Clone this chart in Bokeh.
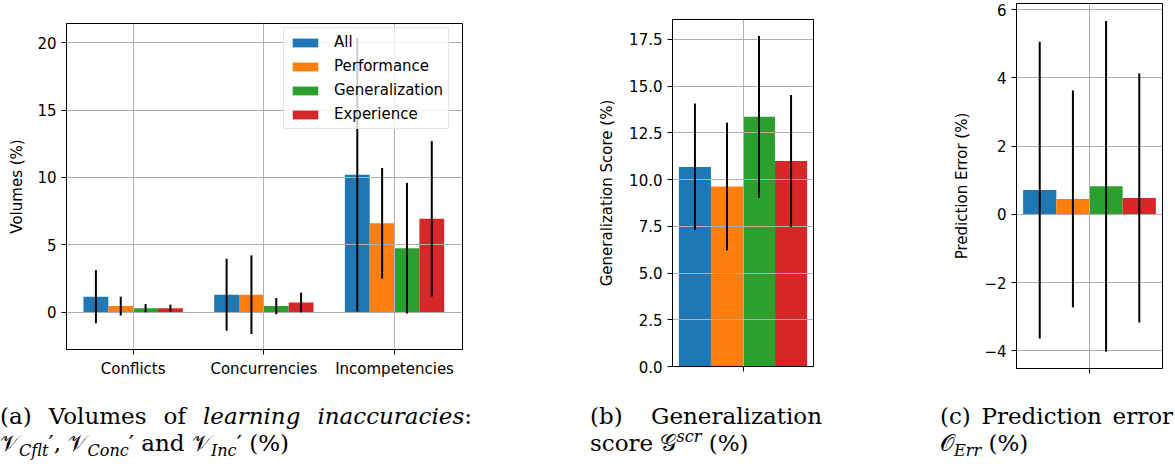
import numpy as np
from bokeh.plotting import figure
from bokeh.models import Range1d, FixedTicker, PrintfTickFormatter, Legend, LegendItem, Div, Spacer
from bokeh.layouts import row, column
from bokeh.embed import file_html
from bokeh.resources import INLINE

# ---------------- data ----------------
categories = ["Conflicts", "Concurrencies", "Incompetencies"]
series = ["All", "Performance", "Generalization", "Experience"]
colors = ["#1f77b4", "#ff7f0e", "#2ca02c", "#d62728"]

# (a) volumes of learning inaccuracies (%), per series over categories
vol_all = [1.15, 1.30, 10.20]
vol_perf = [0.45, 1.30, 6.60]
vol_gen = [0.30, 0.45, 4.75]
vol_exp = [0.29, 0.72, 6.93]
vol_all_err = [1.97, 2.67, 10.15]
vol_perf_err = [0.70, 2.92, 4.10]
vol_gen_err = [0.31, 0.60, 4.85]
vol_exp_err = [0.27, 0.73, 5.77]

# (b) generalization score (%)
gen_mean = [10.68, 9.63, 13.36, 11.00]
gen_err = [3.39, 3.42, 4.33, 3.53]

# (c) prediction error (%)
pred_mean = [0.71, 0.45, 0.82, 0.48]
pred_err = [4.35, 3.18, 4.85, 3.65]

vol_means = [vol_all, vol_perf, vol_gen, vol_exp]
vol_errs = [vol_all_err, vol_perf_err, vol_gen_err, vol_exp_err]

FONT = "DejaVu Sans"


def style(p, ylabel, label_standoff=10):
    p.outline_line_color = "black"
    p.outline_line_width = 1
    p.background_fill_color = "white"
    p.border_fill_color = "white"
    for ax in p.axis:
        ax.major_tick_in = 0
        ax.major_tick_out = 5
        ax.minor_tick_in = 0
        ax.minor_tick_out = 0
        ax.major_tick_line_color = "black"
        ax.major_tick_line_width = 1
        ax.axis_line_color = "black"
        ax.axis_line_width = 1
        ax.major_label_text_font = FONT
        ax.major_label_text_font_size = "15px"
        ax.major_label_text_color = "black"
        ax.major_label_standoff = 5
    p.yaxis.axis_label = ylabel
    p.yaxis.axis_label_text_font = FONT
    p.yaxis.axis_label_text_font_size = "15px"
    p.yaxis.axis_label_text_font_style = "normal"
    p.yaxis.axis_label_text_color = "black"
    p.yaxis.axis_label_standoff = label_standoff
    p.grid.grid_line_color = "#b0b0b0"
    p.grid.grid_line_width = 1
    p.grid.level = "glyph"


# ---------------- panel (a) ----------------
pa = figure(width=560, height=380, title=None, x_range=Range1d(-0.51, 2.52), y_range=Range1d(-2.77, 21.43),
            output_backend="svg", toolbar_location=None, frame_align=False,
            min_border_left=66, min_border_right=98, min_border_top=23, min_border_bottom=31)
style(pa, "Volumes (%)", 8)
xc = np.arange(len(categories))
wa = 0.19
items = []
for i, name in enumerate(series):
    xs = xc + (i - 1.5) * wa
    m = np.array(vol_means[i])
    e = np.array(vol_errs[i])
    r = pa.vbar(x=xs, top=m, bottom=0, width=wa, fill_color=colors[i], line_color=None, level="underlay")
    pa.segment(x0=xs, y0=m - e, x1=xs, y1=m + e, line_color="black", line_width=2, level="guide")
    items.append(LegendItem(label=name, renderers=[r]))
pa.xaxis.ticker = FixedTicker(ticks=list(range(len(categories))))
pa.xaxis.major_label_overrides = {i: c for i, c in enumerate(categories)}
pa.yaxis.ticker = FixedTicker(ticks=[0, 5, 10, 15, 20])
leg = Legend(items=items, location=(217, 220), label_text_font=FONT, label_text_font_size="15px",
             label_text_color="black", glyph_width=32, glyph_height=11, label_height=17,
             label_standoff=13, spacing=6, padding=5, margin=0,
             border_line_color="#cccccc", border_line_width=1,
             background_fill_color="white", background_fill_alpha=0.8)
pa.add_layout(leg)


def single(width, ml, mr, mt, mb, yr, means, errs, ylabel, yticks):
    p = figure(width=width, height=380, title=None, x_range=Range1d(-0.44, 0.44), y_range=Range1d(*yr),
               output_backend="svg", toolbar_location=None, frame_align=False,
               min_border_left=ml, min_border_right=mr, min_border_top=mt, min_border_bottom=mb)
    style(p, ylabel)
    w = 0.2
    xs = (np.arange(len(series)) - 1.5) * w
    m = np.array(means)
    e = np.array(errs)
    p.vbar(x=xs, top=m, bottom=0, width=w, fill_color=colors, line_color=None, level="underlay")
    p.segment(x0=xs, y0=m - e, x1=xs, y1=m + e, line_color="black", line_width=2, level="guide")
    p.xaxis.ticker = FixedTicker(ticks=[0])
    p.xaxis.major_label_overrides = {0: ""}
    p.xaxis.major_label_text_font_size = "0px"
    p.xaxis.major_label_standoff = 0
    p.yaxis.ticker = FixedTicker(ticks=yticks)
    return p


pb = single(320, 112, 67, 19, 14, (0, 18.57), gen_mean, gen_err,
            "Generalization Score (%)", [0, 2.5, 5, 7.5, 10, 12.5, 15, 17.5])
pb.yaxis.formatter = PrintfTickFormatter(format="%.1f")

pc = single(293, 136, 11, 3, 12, (-4.52, 6.18), pred_mean, pred_err,
            "Prediction Error (%)", [-4, -2, 0, 2, 4, 6])
pc.yaxis.major_label_overrides = {-4: "\u22124", -2: "\u22122"}

# ---------------- captions ----------------
CAP = "font-family:'DejaVu Serif';font-size:23px;line-height:27px;color:black;"
SUB = "font-size:70%;line-height:0;vertical-align:-0.3em;"
SUP = "font-size:70%;line-height:0;vertical-align:0.55em;"


def caption(line1, line2, w):
    html = (f'<div style="{CAP}width:{w}px;padding-top:23px">'
            f'<div style="text-align:justify;text-align-last:justify">{line1}</div>'
            f'<div>{line2}</div></div>')
    return Div(text=html, width=w, height=80, margin=0)


ca = caption("(a) Volumes of <i>learning inaccuracies</i>:",
             f"\U0001D4B1<sub style='{SUB}'><i>Cflt</i></sub>\u2032, "
             f"\U0001D4B1<sub style='{SUB}'><i>Conc</i></sub>\u2032 and "
             f"\U0001D4B1<sub style='{SUB}'><i>Inc</i></sub>\u2032 (%)", 472)
cb = caption("(b) Generalization",
             f"score \U0001D4A2<sup style='{SUP}'><i>scr</i></sup> (%)", 232)
cc = caption("(c) Prediction error",
             f"\U0001D4AA<sub style='{SUB}'><i>Err</i></sub> (%)", 233)

caps = row(ca, Spacer(width=118, height=80), cb, Spacer(width=118, height=80), cc, spacing=0)
plots = row(pa, pb, pc, spacing=0)
layout = column(plots, caps, spacing=0)

open("out.html", "w").write(file_html(layout, INLINE))
